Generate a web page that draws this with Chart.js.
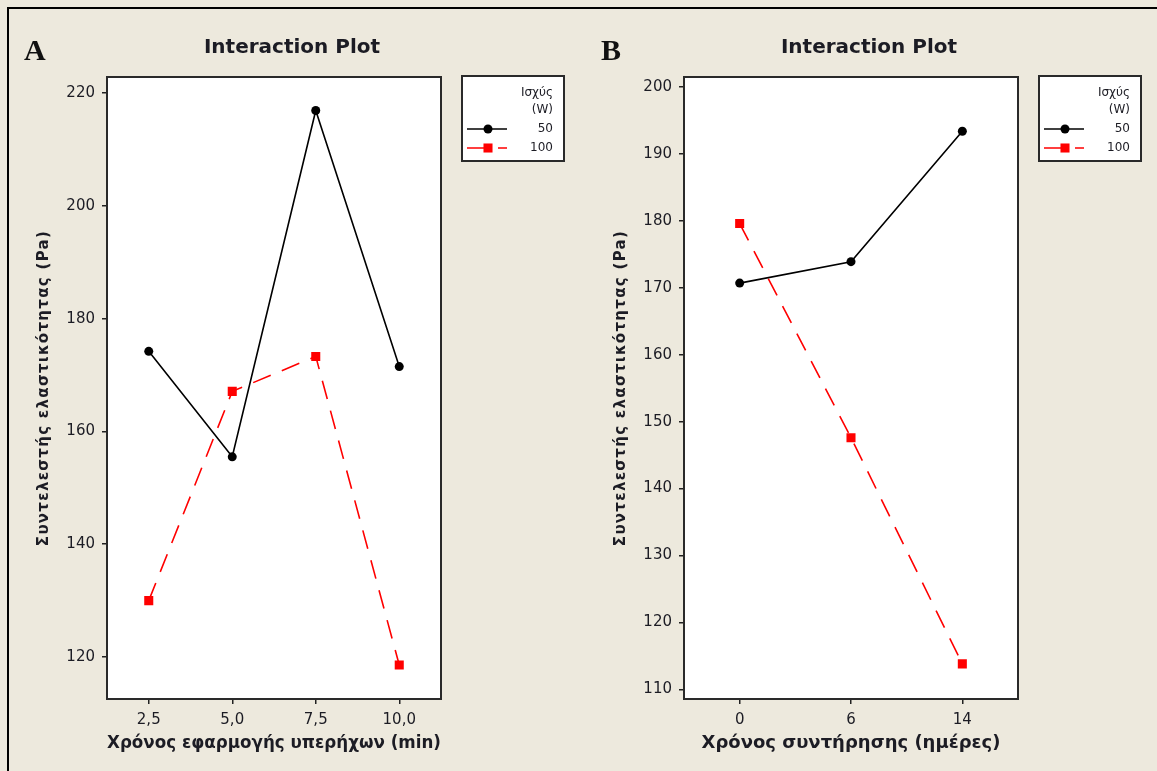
<!DOCTYPE html>
<html>
<head>
<meta charset="utf-8">
<script src="https://cdn.jsdelivr.net/npm/chart.js@4.4.0/dist/chart.umd.min.js"></script>
<style>
body{margin:0;background:#EDE9DD;width:1157px;height:771px;overflow:hidden;position:relative}
#marco{position:absolute;left:7px;top:7px;right:-5px;bottom:-5px;border-left:2px solid #000;border-top:2px solid #000}
.panel{position:absolute;top:0}
</style>
</head>
<body>
<div id="marco"></div>
<canvas id="graficaA" class="panel" style="left:0" width="578" height="771"></canvas>
<canvas id="graficaB" class="panel" style="left:577px" width="578" height="771"></canvas>
<script>
// panel A: tiempo de ultrasonido
var catsA = ['2,5', '5,0', '7,5', '10,0'];
var a50 = [174.2, 155.5, 216.9, 171.5];
var a100 = [130.0, 167.1, 173.3, 118.6];
var ticksA = [120, 140, 160, 180, 200, 220];

// panel B: tiempo de conservacion
var catsB = ['0', '6', '14'];
var b50 = [170.7, 173.9, 193.4];
var b100 = [179.6, 147.6, 113.8];
var ticksB = [110, 120, 130, 140, 150, 160, 170, 180, 190, 200];

var seriesLabels = ['50', '100'];
var legendTitle = ['Ισχύς', '(W)'];
var yTitle = 'Συντελεστής ελαστικότητας (Pa)';

Chart.defaults.font.family = '"DejaVu Sans", sans-serif';
Chart.defaults.color = '#1c1c24';

var marco = {
    id: 'marco',
    beforeDraw: function(chart){
        var a = chart.chartArea;
        chart.ctx.save();
        chart.ctx.fillStyle = '#fff';
        chart.ctx.fillRect(a.left, a.top, a.right - a.left, a.bottom - a.top);
        chart.ctx.restore();
        // titulo del eje y con letras espaciadas
        var s = chart.scales.y;
        if (!s._espaciado) {
            var orig = s.drawTitle;
            s.drawTitle = function(){
                this.ctx.letterSpacing = '1.3px';
                orig.call(this);
                this.ctx.letterSpacing = '0px';
            };
            s._espaciado = true;
        }
    },
    beforeDatasetsDraw: function(chart){
        var a = chart.chartArea;
        var ctx = chart.ctx;
        ctx.save();
        ctx.strokeStyle = '#2a2a2a';
        ctx.lineWidth = 2;
        ctx.strokeRect(a.left, a.top, a.right - a.left, a.bottom - a.top);
        ctx.restore();
    }
};

var leyenda = {
    id: 'leyenda',
    afterDraw: function(chart, args, opts){
        var ctx = chart.ctx;
        var x0 = chart.chartArea.right + 21, y0 = chart.chartArea.top - 1;
        ctx.save();
        ctx.fillStyle = '#fff';
        ctx.fillRect(x0, y0, 102, 85);
        ctx.strokeStyle = '#2a2a2a';
        ctx.lineWidth = 2;
        ctx.strokeRect(x0, y0, 102, 85);
        ctx.font = '12px "DejaVu Sans"';
        ctx.fillStyle = '#1c1c24';
        ctx.textAlign = 'right';
        ctx.textBaseline = 'middle';
        legendTitle.forEach(function(t, i){
            ctx.fillText(t, x0 + 91, y0 + 17 + i * 17);
        });
        chart.data.datasets.forEach(function(ds, i){
            var y = y0 + 53 + i * 19;
            ctx.strokeStyle = ds.borderColor;
            ctx.lineWidth = ds.borderWidth;
            ctx.setLineDash(ds.borderDash || []);
            ctx.beginPath();
            ctx.moveTo(x0 + 5, y);
            ctx.lineTo(x0 + 45, y);
            ctx.stroke();
            ctx.setLineDash([]);
            ctx.fillStyle = ds.backgroundColor;
            Chart.helpers.drawPoint(ctx, {pointStyle: ds.pointStyle, radius: ds.pointRadius, borderWidth: 0}, x0 + 26, y);
            ctx.fillStyle = '#1c1c24';
            ctx.fillText(ds.label, x0 + 91, y);
        });
        // letra del panel
        ctx.font = 'bold 30px "Liberation Serif"';
        ctx.textAlign = 'left';
        ctx.fillStyle = '#111';
        ctx.fillText(opts.letra, 24, 52);
        ctx.restore();
    }
};

function crearGrafica(id, letra, cats, s50, s100, yMin, yMax, yTicks, xTitulo){
    var ctx = document.getElementById(id).getContext('2d');
    return new Chart(ctx, {
        type: 'line',
        data: {
            labels: cats,
            datasets: [{
                label: seriesLabels[0],
                data: s50,
                yAxisID: 'y',
                borderColor: '#000',
                backgroundColor: '#000',
                borderWidth: 1.6,
                pointStyle: 'circle',
                pointRadius: 4.5,
                pointBorderWidth: 0
            }, {
                label: seriesLabels[1],
                data: s100,
                yAxisID: 'y',
                borderColor: '#ff0000',
                backgroundColor: '#ff0000',
                borderWidth: 1.6,
                borderDash: [19, 12],
                pointStyle: 'rect',
                pointRadius: 6.4,
                pointBorderWidth: 0
            }]
        },
        options: {
            responsive: false,
            animation: false,
            layout: {padding: {left: 6, right: 0, top: 0, bottom: 0}},
            plugins: {
                legend: {display: false},
                tooltip: {enabled: false},
                title: {
                    display: true,
                    text: 'Interaction Plot',
                    font: {size: 20, weight: 'bold'},
                    color: '#1c1c24',
                    padding: {top: 36, bottom: 17}
                },
                leyenda: {letra: letra}
            },
            scales: {
                x: {
                    offset: true,
                    border: {display: false},
                    grid: {drawOnChartArea: false, drawTicks: true, tickLength: 5, color: '#222', lineWidth: 1.5},
                    ticks: {font: {size: 15}, padding: 7},
                    title: {display: true, text: xTitulo, font: {size: 18, weight: 'bold'}, padding: {top: 0, bottom: 17}},
                    afterFit: function(s){ s.height = 72; }
                },
                y: {
                    min: yMin,
                    max: yMax,
                    border: {display: false},
                    grid: {drawOnChartArea: false, drawTicks: true, tickLength: 5, color: '#222', lineWidth: 1.5},
                    ticks: {font: {size: 15}, padding: 7},
                    afterBuildTicks: function(s){ s.ticks = yTicks.map(function(v){ return {value: v}; }); },
                    title: {display: true, text: yTitle, font: {size: 15, weight: 'bold'}, padding: {top: 29, bottom: 0}},
                    afterFit: function(s){ s.width = 101; }
                },
                derecha: {
                    position: 'right',
                    display: true,
                    border: {display: false},
                    grid: {display: false},
                    ticks: {display: false},
                    afterFit: function(s){ s.width = 137; }
                }
            }
        },
        plugins: [marco, leyenda]
    });
}

crearGrafica('graficaA', 'A', catsA, a50, a100, 112.56, 222.84, ticksA, 'Χρόνος εφαρμογής υπερήχων (min)');
crearGrafica('graficaB', 'B', catsB, b50, b100, 108.55, 201.5, ticksB, 'Χρόνος συντήρησης (ημέρες)');
</script>
</body>
</html>
